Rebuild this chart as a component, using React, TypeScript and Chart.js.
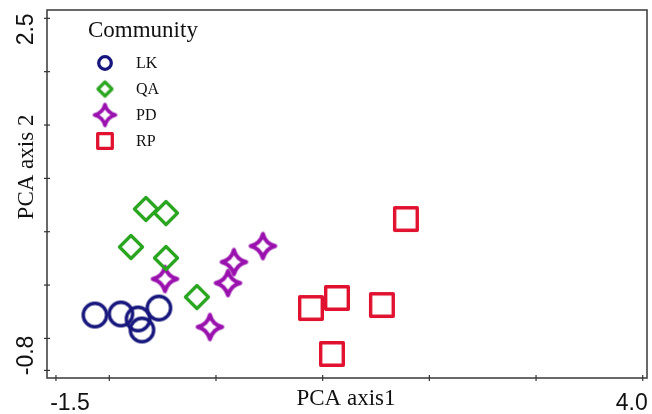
import React, { useEffect, useRef } from "react";
import { Chart, registerables } from "chart.js";

Chart.register(...registerables);

// ---- data ----
const seriesNames = ["LK", "QA", "PD", "RP"];
const lkX = [-1.135, -0.891, -0.731, -0.535, -0.694];
const lkY = [-0.281, -0.271, -0.318, -0.215, -0.421];
const qaX = [-0.657, -0.469, -0.797, -0.469, -0.179];
const qaY = [0.713, 0.675, 0.357, 0.254, -0.112];
const pdX = [-0.478, 0.168, 0.44, 0.112, -0.057];
const pdY = [0.057, 0.216, 0.366, 0.019, -0.393];
const rpX = [1.78, 0.89, 1.134, 1.555, 1.087];
const rpY = [0.619, -0.215, -0.121, -0.187, -0.646];

const xTickValues = [-1.5, -1, 0, 1, 2, 3, 4];
const yTickValues = [2.5, 2, 1.5, 1, 0.5, 0, -0.5, -0.8];
const xTickLabels = ["-1.5", "4.0"];
const xTickLabelAt = [-1.5, 4];
const yTickLabels = ["2.5", "-0.8"];
const yTickLabelAt = [2.5, -0.5];
const xTitle = "PCA axis1";
const yTitle = "PCA axis 2";
const legendTitle = "Community";

// ---- styles ----
const colors = ["#16167c", "#2aa520", "#9a12ae", "#e0122f"];
const xLabelShift = [14, -11];
const yLabelShift = [11, 17];

type Shape = "circle" | "diamond" | "star" | "square";
const shapes: Shape[] = ["circle", "diamond", "star", "square"];

function makeMarker(shape: Shape, color: string, r: number, lw: number): HTMLCanvasElement {
  const size = Math.ceil(2 * (r + lw) + 4);
  const c = document.createElement("canvas");
  c.width = size;
  c.height = size;
  const g = c.getContext("2d")!;
  g.translate(size / 2, size / 2);
  g.strokeStyle = color;
  g.lineWidth = lw;
  g.lineJoin = "round";
  g.beginPath();
  if (shape === "circle") {
    g.arc(0, 0, r, 0, Math.PI * 2);
  } else if (shape === "diamond") {
    g.moveTo(0, -r);
    g.lineTo(r, 0);
    g.lineTo(0, r);
    g.lineTo(-r, 0);
    g.closePath();
  } else if (shape === "square") {
    g.rect(-r, -r, 2 * r, 2 * r);
  } else {
    const k = r * 0.2;
    g.moveTo(0, -r);
    g.quadraticCurveTo(k, -k, r, 0);
    g.quadraticCurveTo(k, k, 0, r);
    g.quadraticCurveTo(-k, k, -r, 0);
    g.quadraticCurveTo(-k, -k, 0, -r);
    g.closePath();
  }
  g.stroke();
  return c;
}

const plotSizes: Record<Shape, [number, number]> = {
  circle: [11.7, 3.4],
  diamond: [11.5, 3.3],
  star: [12.3, 4],
  square: [11.3, 3.4],
};
const legendSizes: Record<Shape, [number, number]> = {
  circle: [6.3, 3.3],
  diamond: [7, 3.2],
  star: [10.5, 3.6],
  square: [7.3, 3.3],
};

export default function App() {
  const ref = useRef<HTMLCanvasElement>(null);

  useEffect(() => {
    const canvas = ref.current!;
    const xs = [lkX, qaX, pdX, rpX];
    const ysArr = [lkY, qaY, pdY, rpY];
    const plotMarkers = shapes.map((s, i) => makeMarker(s, colors[i], plotSizes[s][0], plotSizes[s][1]));
    const legendMarkers = shapes.map((s, i) => makeMarker(s, colors[i], legendSizes[s][0], legendSizes[s][1]));

    const overlay = {
      id: "overlay",
      afterDraw(chart: any) {
        const { ctx, chartArea: a, scales } = chart;
        const sx = scales.x;
        const sy = scales.y;
        ctx.save();
        // frame
        ctx.strokeStyle = "#444444";
        ctx.lineWidth = 1.6;
        ctx.strokeRect(a.left, a.top, a.right - a.left, a.bottom - a.top);
        // ticks
        ctx.lineWidth = 1.2;
        ctx.strokeStyle = "#333333";
        xTickValues.forEach((v) => {
          const px = sx.getPixelForValue(v);
          ctx.beginPath();
          ctx.moveTo(px, a.bottom - 3);
          ctx.lineTo(px, a.bottom + 3);
          ctx.stroke();
        });
        yTickValues.forEach((v) => {
          const py = sy.getPixelForValue(v);
          ctx.beginPath();
          ctx.moveTo(a.left - 3, py);
          ctx.lineTo(a.left + 3, py);
          ctx.stroke();
        });
        // tick labels
        ctx.fillStyle = "#111111";
        ctx.font = "23px 'Liberation Sans', Arial, sans-serif";
        ctx.textAlign = "center";
        ctx.textBaseline = "alphabetic";
        xTickLabels.forEach((t, i) => {
          const px = sx.getPixelForValue(xTickLabelAt[i]) + xLabelShift[i];
          ctx.fillText(t, px, 410);
        });
        yTickLabels.forEach((t, i) => {
          const py = sy.getPixelForValue(yTickLabelAt[i]) + yLabelShift[i];
          ctx.save();
          ctx.translate(33, py);
          ctx.rotate(-Math.PI / 2);
          ctx.fillText(t, 0, 0);
          ctx.restore();
        });
        // axis titles
        ctx.font = "23px 'Liberation Serif', 'Times New Roman', serif";
        ctx.fillText(xTitle, 346, 405);
        ctx.save();
        ctx.translate(33, 167);
        ctx.rotate(-Math.PI / 2);
        ctx.fillText(yTitle, 0, 0);
        ctx.restore();
        // legend
        ctx.textAlign = "left";
        ctx.fillText(legendTitle, 88, 37);
        ctx.font = "16px 'Liberation Serif', 'Times New Roman', serif";
        ctx.textBaseline = "middle";
        seriesNames.forEach((n, i) => {
          const cy = 63 + i * 26;
          const m = legendMarkers[i];
          ctx.drawImage(m, 105 - m.width / 2, cy - m.height / 2);
          ctx.fillText(n, 136, cy + 1);
        });
        ctx.restore();
      },
    };

    const chart = new Chart(canvas, {
      type: "scatter",
      data: {
        datasets: seriesNames.map((n, i) => ({
          label: n,
          data: xs[i].map((x, j) => ({ x, y: ysArr[i][j] })),
          pointStyle: plotMarkers[i] as any,
          pointRadius: 12,
          pointHoverRadius: 12,
          borderColor: colors[i],
          backgroundColor: colors[i],
        })),
      },
      options: {
        animation: false,
        responsive: false,
        devicePixelRatio: 1,
        layout: { autoPadding: false, padding: { top: 10, right: 5, left: 0, bottom: 0 } },
        plugins: { legend: { display: false }, tooltip: { enabled: false } },
        scales: {
          x: {
            type: "linear",
            min: -1.584,
            max: 4.04,
            grid: { display: false },
            border: { display: false },
            ticks: { display: false },
            afterFit: (s: any) => {
              s.height = 36;
            },
          },
          y: {
            type: "linear",
            min: -0.871,
            max: 2.578,
            grid: { display: false },
            border: { display: false },
            ticks: { display: false },
            afterFit: (s: any) => {
              s.width = 47;
            },
          },
        },
      },
      plugins: [overlay],
    });
    return () => chart.destroy();
  }, []);

  return (
    <div style={{ position: "fixed", left: 0, top: 0, width: 652, height: 414, background: "#fff" }}>
      <canvas ref={ref} width={652} height={414} style={{ display: "block" }} />
    </div>
  );
}
